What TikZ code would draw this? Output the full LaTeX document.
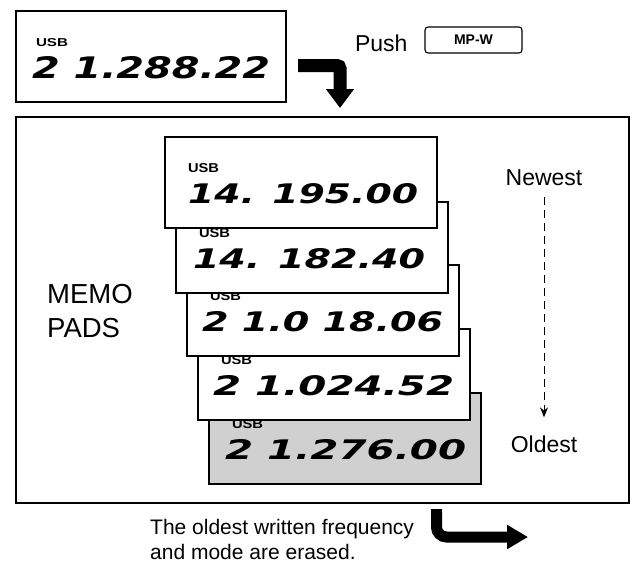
\documentclass[tikz,border=0pt]{standalone}
\usepackage{fontspec}
\usepackage{graphicx}
\setmainfont{Liberation Sans}
\newfontfamily\segfont{DejaVu Sans}
\usetikzlibrary{arrows.meta}
\definecolor{padgray}{RGB}{208,208,208}
\newcommand\segdigits[3]{\resizebox{#1pt}{#2pt}{\segfont\bfseries\itshape #3}}
\newcommand\usblab[2]{\resizebox{#1pt}{#2pt}{\bfseries USB}}
\newcommand\memopad[7]{%
  \node[lcd, fill=#4] (#1) at (#2,#3) {};
  \node[txt] (#1u) at ([shift={(23,26)}]#1.north west) {\usblab{31}{9}};
  \node[txt] (#1d) at ([shift={(#7,46)}]#1.north west) {\segdigits{#5}{20}{#6}};
}
\begin{document}
\begin{tikzpicture}[x=1pt,y=-1pt,
  lcd/.style={draw=black, line width=1.3pt, inner sep=0pt, outer sep=0pt,
    minimum width=272pt, minimum height=91pt, anchor=north west},
  txt/.style={anchor=north west, inner sep=0pt, outer sep=0pt},
  lbl/.style={inner sep=0pt, outer sep=0pt, font=\fontsize{23}{27}\selectfont},
  bigarrow/.style={line width=13pt, rounded corners=3pt,
    -{Triangle[length=19pt,width=27pt]}},
]
\useasboundingbox (0,0) rectangle (632,566);

% outer frame
\node[draw=black, line width=1.5pt, inner sep=0pt, outer sep=0pt, anchor=north west,
  minimum width=613pt, minimum height=386pt] (frame) at (16,117) {};

% top display
\node[lcd, minimum width=270pt] (top) at (16,11) {};
\node[txt] (topu) at (36,38) {\usblab{32}{8}};
\node[txt] (topd) at (32,56) {\segdigits{238}{22}{2 1.288.22}};

% bent arrow (top)
\coordinate (ta0) at (298,65.5);
\coordinate (ta1) at (340,65.5);
\coordinate (ta2) at (340,108);
\draw[bigarrow] (ta0) -- (ta1) -- (ta2);

% Push MP-W
\node[lbl, anchor=base west] (push) at (355,51) {Push};
\node[draw=black, line width=1.1pt, rounded corners=3pt, minimum width=97pt,
  minimum height=26pt, inner sep=0pt, font=\bfseries\fontsize{14}{14}\selectfont]
  (mpw) at (473.5,40) {MP-W};

% memo pads stack (bottom first)
\memopad{p5}{209}{393}{padgray}{241}{2 1.276.00}{16}
\memopad{p4}{198}{329}{white}{241}{2 1.024.52}{15}
\memopad{p3}{187}{265}{white}{241}{2 1.0 18.06}{15}
\memopad{p2}{176}{202}{white}{232}{14. 182.40}{17}
\memopad{p1}{165}{137}{white}{230}{14. 195.00}{23}

% MEMO PADS
\node[inner sep=0pt, anchor=base west, font=\fontsize{27.5}{32}\selectfont] (memo) at (47,303) {MEMO};
\node[inner sep=0pt, anchor=base west, font=\fontsize{27.5}{32}\selectfont] (pads) at (47,337) {PADS};

% Newest / Oldest
\node[lbl, anchor=base] (newest) at (544,185) {Newest};
\node[lbl, anchor=base] (oldest) at (544,452) {Oldest};
\draw[line width=1pt, dash pattern=on 8pt off 5pt, shorten <=12pt, shorten >=18pt,
  -{Stealth[length=10pt,width=8pt]}] (newest.south) -- (oldest.north);

% bottom note
\node[inner sep=0pt, anchor=base west, font=\fontsize{21}{25}\selectfont] (note1) at (150,534) {The oldest written frequency};
\node[inner sep=0pt, anchor=base west, font=\fontsize{21}{25}\selectfont] (note2) at (150,559) {and mode are erased.};

% bent arrow (bottom)
\coordinate (ba0) at (436.5,509);
\coordinate (ba1) at (436.5,537);
\coordinate (ba2) at (528,537);
\draw[line width=11pt, rounded corners=10pt, -{Triangle[length=21pt,width=23pt]}] (ba0) -- (ba1) -- (ba2);
\end{tikzpicture}
\end{document}
